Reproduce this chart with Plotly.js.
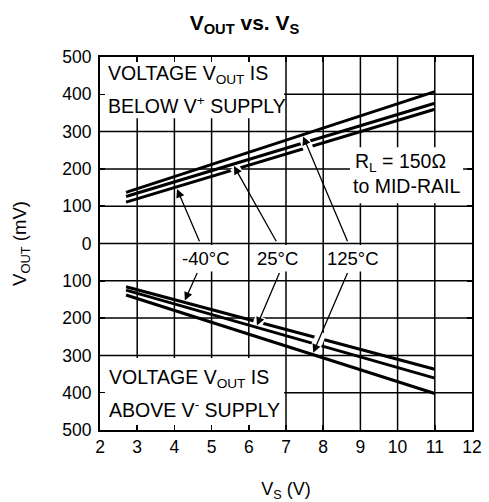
<!DOCTYPE html>
<html>
<head>
<meta charset="utf-8">
<script src="https://cdn.plot.ly/plotly-3.0.1.min.js"></script>
<style>body{margin:0;padding:0;background:#fff}#chart{width:489px;height:502px}</style>
</head>
<body>
<div id="chart"></div>
<script>
// Supply voltage (V)
const vs = [2.7, 11];
// Upper group: headroom below V+ supply (mV)
const upperM40 = [111, 360];
const upper25 = [126, 376];
const upper125 = [137, 407];
// Lower group: headroom above V- supply (mV, plotted negative)
const lowerM40 = [-116, -337];
const lower25 = [-125, -361];
const lower125 = [-138, -402];

const tempLabels = ['-40°C', '25°C', '125°C'];
const yTickVals = [500, 400, 300, 200, 100, 0, -100, -200, -300, -400, -500];
const yTickText = ['500', '400', '300', '200', '100', '0', '100', '200', '300', '400', '500'];
const xTickVals = [2, 3, 4, 5, 6, 7, 8, 9, 10, 11, 12];

const FONT = 'Liberation Sans, Arial, Helvetica, sans-serif';
const lineStyle = {color: '#000', width: 3};

const series = [upperM40, upper25, upper125, lowerM40, lower25, lower125];
const traces = series.map(s => ({
  x: vs, y: s, type: 'scatter', mode: 'lines', line: lineStyle,
  hoverinfo: 'skip', showlegend: false
}));

// arrows: tip (x,y), tail (ax,ay); gap = y range along arrow where crossed lines are cut
const arrows = [
  {x: 4.07, y: 146, ax: 4.69, ay: 2, gap: null},
  {x: 5.60, y: 208, ax: 6.76, ay: 2, gap: [186, 205]},
  {x: 7.46, y: 287, ax: 8.67, ay: 2, gap: [243, 283]},
  {x: 4.28, y: -153, ax: 4.63, ay: -75, gap: null},
  {x: 6.22, y: -220, ax: 6.84, ay: -75, gap: [-196, -217]},
  {x: 7.73, y: -293, ax: 8.67, ay: -75, gap: [-238, -289]}
];

const shapes = [];
// grid lines (drawn as shapes beneath the white text backgrounds)
const xr = [2, 12], yr = [-500, 500];
xTickVals.slice(1, -1).forEach(v => shapes.push({
  type: 'line', xref: 'x', yref: 'y', x0: v, x1: v, y0: yr[0], y1: yr[1],
  line: {color: '#000', width: 1.5}, layer: 'below'
}));
yTickVals.slice(1, -1).forEach(v => shapes.push({
  type: 'line', xref: 'x', yref: 'y', x0: xr[0], x1: xr[1], y0: v, y1: v,
  line: {color: '#000', width: 1.5}, layer: 'below'
}));
// white backgrounds behind text blocks (cover gridlines)
const boxes = [
  [2, 6.95, 336, 500],
  [2, 6.95, -500, -307],
  [8.72, 11.76, 108, 258],
  [4.05, 5.95, -75, -4],
  [6.05, 7.95, -75, -4],
  [8.05, 9.95, -75, -4]
];
boxes.forEach(b => shapes.push({
  type: 'rect', xref: 'x', yref: 'y', x0: b[0], x1: b[1], y0: b[2], y1: b[3],
  fillcolor: '#fff', line: {width: 0}, layer: 'below'
}));
arrows.forEach(a => {
  if (!a.gap) return;
  const fx = y => a.ax + (a.x - a.ax) * (y - a.ay) / (a.y - a.ay);
  shapes.push({
    type: 'line', xref: 'x', yref: 'y',
    x0: fx(a.gap[0]), y0: a.gap[0], x1: fx(a.gap[1]), y1: a.gap[1],
    line: {color: '#fff', width: 10}, layer: 'above'
  });
});

const annFont = {family: FONT, size: 19.5, color: '#000'};
const labFont = {family: FONT, size: 18.5, color: '#000'};
const annotations = arrows.map(a => ({
  x: a.x, y: a.y, ax: a.ax, ay: a.ay, xref: 'x', yref: 'y', axref: 'x', ayref: 'y',
  text: '', showarrow: true, arrowhead: 2, arrowsize: 1.3, arrowwidth: 1.3,
  arrowcolor: '#000', standoff: 0, startstandoff: 0
}));
const labelX = [4.85, 6.77, 8.79];
tempLabels.forEach((t, i) => annotations.push({
  x: labelX[i], y: -40, xref: 'x', yref: 'y', text: t, showarrow: false,
  font: labFont, xanchor: 'center', yanchor: 'middle'
}));
const texts = [
  {x: 2.17, y: 452, t: 'VOLTAGE V<sub>OUT</sub> IS', xa: 'left'},
  {x: 2.17, y: 371, t: 'BELOW V<sup>+</sup> SUPPLY', xa: 'left'},
  {x: 2.19, y: -363, t: 'VOLTAGE V<sub>OUT</sub> IS', xa: 'left'},
  {x: 2.19, y: -444, t: 'ABOVE V<sup>-</sup> SUPPLY', xa: 'left'},
  {x: 10.09, y: 216, t: 'R<sub>L</sub> = 150Ω', xa: 'center'},
  {x: 10.23, y: 154, t: 'to MID-RAIL', xa: 'center'}
];
texts.forEach(o => annotations.push({
  x: o.x, y: o.y, xref: 'x', yref: 'y', text: o.t, showarrow: false,
  font: annFont, xanchor: o.xa, yanchor: 'middle'
}));

const axisCommon = {
  showgrid: false,
  showline: true, linecolor: '#000', linewidth: 2, mirror: 'ticks',
  ticks: 'inside', ticklen: 5, tickwidth: 1.5, tickcolor: '#000',
  zeroline: false, tickfont: {family: FONT, size: 17.5, color: '#000'},
  fixedrange: true
};

const layout = {
  width: 489, height: 502,
  margin: {l: 100, r: 17, t: 57, b: 72, pad: 0},
  paper_bgcolor: '#fff', plot_bgcolor: '#fff',
  showlegend: false,
  font: {family: FONT, color: '#000'},
  title: {
    text: '<b>V<sub>OUT</sub> vs. V<sub>S</sub></b>',
    font: {family: FONT, size: 21, color: '#000'},
    x: 0.5, xref: 'container', xanchor: 'center', y: 0.955, yref: 'container', yanchor: 'middle'
  },
  xaxis: Object.assign({}, axisCommon, {
    range: xr, tickvals: xTickVals,
    title: {text: 'V<sub>S</sub> (V)', font: {family: FONT, size: 18, color: '#000'}, standoff: 30}
  }),
  yaxis: Object.assign({}, axisCommon, {
    range: yr, tickvals: yTickVals, ticktext: yTickText, ticklabelstandoff: 3,
    title: {text: 'V<sub>OUT</sub> (mV)', font: {family: FONT, size: 18.5, color: '#000'}, standoff: 31}
  }),
  shapes: shapes,
  annotations: annotations
};

Plotly.newPlot('chart', traces, layout, {displayModeBar: false, staticPlot: true});
</script>
</body>
</html>
